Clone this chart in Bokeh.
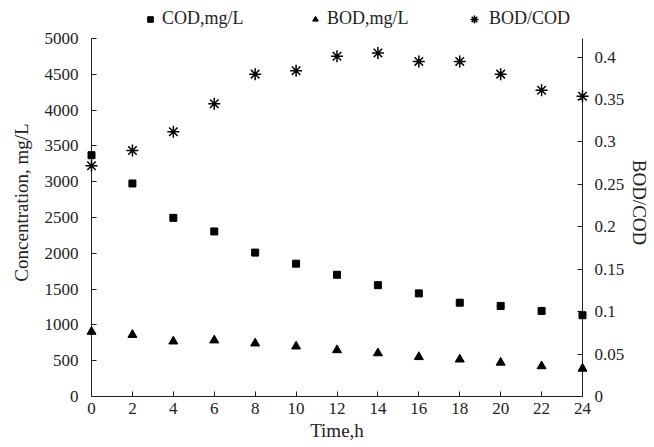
from bokeh.plotting import figure
from bokeh.models import Range1d, LinearAxis, FixedTicker, CustomJSTickFormatter, Legend, LegendItem
from bokeh.embed import file_html
from bokeh.resources import INLINE

time_h = [0, 2, 4, 6, 8, 10, 12, 14, 16, 18, 20, 22, 24]
cod = [3370, 2975, 2495, 2305, 2010, 1855, 1700, 1555, 1440, 1310, 1265, 1195, 1135]
bod = [905, 862, 770, 785, 742, 700, 648, 605, 552, 518, 474, 424, 390]
ratio = [0.272, 0.290, 0.312, 0.345, 0.380, 0.384, 0.401, 0.405, 0.395, 0.395, 0.380, 0.361, 0.354]

x_ticks = list(range(0, 25, 2))
left_ticks = list(range(0, 5001, 500))
right_ticks = [0, 0.05, 0.1, 0.15, 0.2, 0.25, 0.3, 0.35, 0.4]
left_max = 5000
right_max = 0.422

FONT = "Liberation Serif"

# frame reaches up to the legend row; the axes are bounded to their data extent
ext = 388.0 / 358.0
p = figure(width=654, height=447, output_backend="svg", toolbar_location=None,
           x_range=Range1d(0, 24), y_range=Range1d(0, left_max * ext),
           min_border_left=91, min_border_right=72, min_border_top=8, min_border_bottom=51)
p.extra_y_ranges = {"r": Range1d(0, right_max * ext)}
p.outline_line_color = None
p.grid.visible = False
p.background_fill_color = "white"
p.border_fill_color = "white"

def style(ax):
    ax.major_label_text_font = FONT
    ax.major_label_text_font_size = "17px"
    ax.major_label_text_color = "#222222"
    ax.axis_label_text_font = FONT
    ax.axis_label_text_font_size = "19px"
    ax.axis_label_text_font_style = "normal"
    ax.axis_label_text_color = "#222222"
    ax.major_tick_in = 5
    ax.major_tick_out = 0
    ax.minor_tick_line_color = None
    ax.axis_line_color = "#222222"
    ax.major_tick_line_color = "#222222"

xa = p.xaxis[0]
xa.ticker = FixedTicker(ticks=x_ticks)
xa.axis_label = "Time,h"
style(xa)
xa.major_label_standoff = 6
xa.axis_label_standoff = 3

ya = p.yaxis[0]
ya.ticker = FixedTicker(ticks=left_ticks)
ya.bounds = (0, left_max)
ya.axis_label = "Concentration, mg/L"
style(ya)
ya.major_label_standoff = 13
ya.axis_label_standoff = 10

ra = LinearAxis(y_range_name="r", axis_label="BOD/COD")
ra.ticker = FixedTicker(ticks=right_ticks)
ra.bounds = (0, right_max)
ra.formatter = CustomJSTickFormatter(code="return Number(tick.toFixed(2)).toString();")
style(ra)
ra.major_label_standoff = 12
ra.axis_label_standoff = 2
p.add_layout(ra, "right")

r1 = p.scatter(time_h, cod, marker="square", size=7, color="black")
r2 = p.scatter(time_h, bod, marker="triangle", size=9, color="black")
r3 = p.scatter(time_h, ratio, marker="asterisk", size=12, line_width=1.5,
               line_color="black", y_range_name="r")
for r in (r1, r2, r3):
    r.level = "overlay"

common = dict(orientation="horizontal", spacing=0, padding=0, margin=0,
              border_line_color=None, background_fill_alpha=0, label_standoff=5,
              label_text_font=FONT, label_text_font_size="18px", label_text_color="#222222")

legend_a = Legend(items=[LegendItem(label="COD,mg/L", renderers=[r1]),
                         LegendItem(label="BOD,mg/L", renderers=[r2])],
                  location=(52, 367), glyph_width=14, glyph_height=14, label_width=146, **common)
legend_b = Legend(items=[LegendItem(label="BOD/COD", renderers=[r3])],
                  location=(373, 367), glyph_width=20, glyph_height=20, **common)
for lg in (legend_a, legend_b):
    p.add_layout(lg, "center")

open("out.html", "w").write(file_html(p, INLINE))
